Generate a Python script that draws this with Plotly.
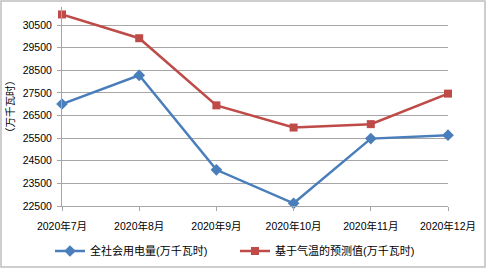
import plotly.graph_objects as go

categories = ["2020年7月", "2020年8月", "2020年9月", "2020年10月", "2020年11月", "2020年12月"]
actual = [27010, 28280, 24100, 22620, 25480, 25630]
forecast = [30970, 29920, 26950, 25970, 26120, 27470]
name_actual = "全社会用电量(万千瓦时)"
name_forecast = "基于气温的预测值(万千瓦时)"
ytick_vals = [22500, 23500, 24500, 25500, 26500, 27500, 28500, 29500, 30500]

font_family = "Liberation Sans, Arial, Noto Sans CJK SC, sans-serif"
blue = "#4A7EBB"
red = "#BE4B48"
grid = "#A6A6A6"

fig = go.Figure()
fig.add_trace(go.Scatter(
    x=list(range(len(categories))), y=actual, name=name_actual, mode="lines+markers",
    line=dict(color=blue, width=2.5), marker=dict(symbol="diamond", size=9, color=blue),
    cliponaxis=False))
fig.add_trace(go.Scatter(
    x=list(range(len(categories))), y=forecast, name=name_forecast, mode="lines+markers",
    line=dict(color=red, width=2.5), marker=dict(symbol="square", size=8, color=red),
    cliponaxis=False))

fig.update_layout(
    width=487, height=269,
    margin=dict(l=62, r=39, t=7, b=63, autoexpand=False),
    paper_bgcolor="white", plot_bgcolor="white",
    font=dict(family=font_family, size=10.5, color="#000000"),
    showlegend=True,
    legend=dict(orientation="h", xref="container", x=50 / 487, xanchor="left",
                yref="container", y=(269 - 251) / 269, yanchor="middle",
                font=dict(size=11), entrywidth=140, entrywidthmode="pixels",
                itemwidth=30, tracegroupgap=0),
    xaxis=dict(range=[0, 5], tickmode="array", tickvals=list(range(len(categories))),
               ticktext=categories, showgrid=False, showline=True, linecolor=grid,
               linewidth=1, ticks="outside", ticklen=4, tickcolor=grid, zeroline=False,
               ticklabelstandoff=6, automargin=False, fixedrange=True),
    yaxis=dict(range=[22500, 31300], tickmode="array", tickvals=ytick_vals,
               ticktext=[str(v) for v in ytick_vals],
               showgrid=True, gridcolor=grid, gridwidth=1, showline=True, linecolor=grid,
               linewidth=1, ticks="outside", ticklen=4, tickcolor=grid, zeroline=False,
               ticklabelstandoff=3,
               title=dict(text="（万千瓦时）", standoff=6, font=dict(size=10.5)),
               automargin=False, fixedrange=True),
    shapes=[dict(type="rect", xref="paper", yref="paper",
                 x0=(1 - 62) / 386, x1=(485 - 62) / 386,
                 y0=(206 - 267) / 199, y1=(206 - 1) / 199,
                 line=dict(color="#BFBFBF", width=1.5), fillcolor="rgba(0,0,0,0)",
                 layer="below")],
)

fig.write_html("out.html", config={"displayModeBar": False},
               post_script="document.body.style.margin='0';document.body.style.overflow='hidden';")
